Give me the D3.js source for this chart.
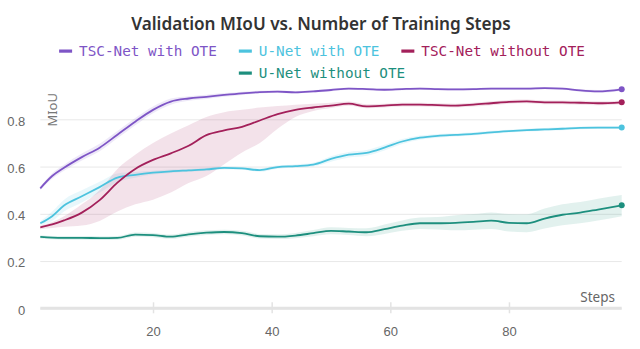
<!DOCTYPE html>
<html>
<head>
<meta charset="utf-8">
<title>Validation MIoU vs. Number of Training Steps</title>
<script src="https://cdn.jsdelivr.net/npm/d3@7"></script>
<style>
  body { margin: 0; background: #fff; }
  svg { display: block; font-family: "Noto Sans", sans-serif; }
  .tick text { fill: #666; font-size: 13px; }
  .legend text { font-family: "DejaVu Sans Mono", monospace; font-size: 14.3px; }
</style>
</head>
<body>
<script>
// training steps (x) sampled along the curves
var steps = [1,3,5,8,11,14,17,20,23,26,29,32,35,38,41,44,47,50,53,56,59,62,65,68,71,74,77,80,83,86,89,92,95,99];

// TSC-Net with OTE
var tscOte   = [0.508,0.56,0.595,0.64,0.68,0.735,0.79,0.84,0.875,0.888,0.895,0.903,0.91,0.915,0.917,0.914,0.918,0.924,0.93,0.928,0.925,0.928,0.93,0.928,0.927,0.928,0.93,0.93,0.93,0.932,0.93,0.922,0.918,0.927];
var tscOteLo = [0.5,0.548,0.582,0.626,0.665,0.72,0.775,0.826,0.862,0.878,0.886,0.895,0.903,0.909,0.911,0.909,0.913,0.919,0.925,0.923,0.92,0.923,0.925,0.923,0.922,0.923,0.925,0.925,0.925,0.927,0.925,0.917,0.912,0.921];
var tscOteHi = [0.516,0.572,0.608,0.655,0.696,0.75,0.805,0.854,0.888,0.898,0.904,0.911,0.917,0.921,0.923,0.919,0.923,0.929,0.935,0.933,0.93,0.933,0.935,0.933,0.932,0.933,0.935,0.935,0.935,0.937,0.935,0.927,0.924,0.933];

// U-Net with OTE
var unetOte   = [0.36,0.39,0.435,0.474,0.513,0.553,0.565,0.574,0.58,0.584,0.588,0.594,0.592,0.585,0.598,0.602,0.608,0.632,0.65,0.658,0.68,0.706,0.722,0.73,0.734,0.738,0.745,0.75,0.754,0.757,0.76,0.764,0.765,0.765];
var unetOteLo = [0.352,0.37,0.41,0.448,0.49,0.535,0.553,0.566,0.573,0.578,0.582,0.588,0.586,0.578,0.591,0.595,0.6,0.62,0.638,0.646,0.668,0.695,0.713,0.722,0.727,0.731,0.738,0.744,0.748,0.751,0.754,0.758,0.759,0.759];
var unetOteHi = [0.368,0.41,0.46,0.5,0.536,0.571,0.577,0.582,0.587,0.59,0.594,0.6,0.598,0.592,0.605,0.609,0.616,0.644,0.662,0.67,0.692,0.717,0.731,0.738,0.741,0.745,0.752,0.756,0.76,0.763,0.766,0.77,0.771,0.771];

// TSC-Net without OTE
var tscNo   = [0.343,0.355,0.372,0.405,0.458,0.532,0.59,0.628,0.656,0.688,0.733,0.753,0.768,0.795,0.822,0.84,0.85,0.858,0.866,0.855,0.858,0.862,0.862,0.86,0.858,0.862,0.868,0.874,0.876,0.872,0.872,0.87,0.868,0.872];
var tscNoLo = [0.335,0.34,0.345,0.35,0.37,0.41,0.44,0.46,0.49,0.53,0.56,0.61,0.66,0.70,0.76,0.81,0.835,0.848,0.857,0.847,0.85,0.854,0.854,0.852,0.85,0.854,0.86,0.866,0.868,0.864,0.864,0.862,0.86,0.864];
var tscNoHi = [0.35,0.365,0.39,0.44,0.50,0.59,0.65,0.70,0.74,0.775,0.81,0.83,0.84,0.85,0.856,0.862,0.866,0.87,0.875,0.864,0.866,0.87,0.87,0.868,0.866,0.87,0.876,0.882,0.884,0.88,0.88,0.878,0.876,0.88];

// U-Net without OTE
var unetNo   = [0.302,0.299,0.298,0.298,0.297,0.298,0.312,0.31,0.303,0.313,0.32,0.323,0.318,0.305,0.303,0.308,0.318,0.328,0.325,0.322,0.335,0.35,0.36,0.36,0.362,0.366,0.371,0.362,0.36,0.38,0.396,0.405,0.418,0.436];
var unetNoLo = [0.295,0.292,0.29,0.29,0.289,0.29,0.303,0.301,0.294,0.303,0.31,0.313,0.308,0.295,0.293,0.297,0.305,0.313,0.31,0.305,0.315,0.328,0.336,0.334,0.33,0.333,0.336,0.325,0.322,0.338,0.352,0.36,0.372,0.39];
var unetNoHi = [0.309,0.306,0.306,0.306,0.305,0.306,0.321,0.319,0.312,0.323,0.33,0.333,0.328,0.315,0.313,0.319,0.331,0.343,0.34,0.339,0.355,0.372,0.384,0.386,0.394,0.399,0.406,0.399,0.398,0.422,0.44,0.45,0.464,0.48];

var xTicks = [20,40,60,80];
var yTicks = [0,0.2,0.4,0.6,0.8];

var series = [
  {name: "TSC-Net with OTE",    color: "#7e55c6", v: tscOte,  lo: tscOteLo,  hi: tscOteHi},
  {name: "U-Net with OTE",      color: "#4cc3de", v: unetOte, lo: unetOteLo, hi: unetOteHi},
  {name: "TSC-Net without OTE", color: "#a3205a", v: tscNo,   lo: tscNoLo,   hi: tscNoHi},
  {name: "U-Net without OTE",   color: "#1d8f7e", v: unetNo,  lo: unetNoLo,  hi: unetNoHi}
];

var W = 640, H = 349;
var svg = d3.select("body").append("svg").attr("width", W).attr("height", H);

var x = d3.scaleLinear().domain([1, 99]).range([40.3, 621.7]);
var y = d3.scaleLinear().domain([0, 0.8]).range([308.3, 119.3]);

// title, scaled to the width seen in the picture
var title = svg.append("text")
  .attr("x", 321).attr("y", 30)
  .attr("text-anchor", "middle")
  .style("font-size", "17px").style("font-weight", 600).style("fill", "#333")
  .text("Validation MIoU vs. Number of Training Steps");
var tw = title.node().getComputedTextLength();
title.style("font-size", (17 * 380 / tw) + "px");

// y grid + labels
var yAxis = d3.axisLeft(y).tickValues(yTicks)
  .tickSize(-(x(99) - x(1))).tickPadding(15)
  .tickFormat(function(d) { return d === 0 ? "0" : d3.format(".1f")(d); });
var gy = svg.append("g").attr("transform", "translate(" + x(1) + ",0)").call(yAxis);
gy.select(".domain").remove();
gy.selectAll(".tick line").attr("stroke", "#e8e8e8").attr("stroke-width", 1);
gy.selectAll(".tick text").attr("dy", "0.45em");

// baseline at 0
svg.append("line")
  .attr("x1", x(1)).attr("x2", x(99))
  .attr("y1", y(0)).attr("y2", y(0))
  .attr("stroke", "#e3e3e3").attr("stroke-width", 3);

// x axis
var xAxis = d3.axisBottom(x).tickValues(xTicks).tickSize(5).tickPadding(13);
var gx = svg.append("g").attr("transform", "translate(0," + y(0) + ")").call(xAxis);
gx.select(".domain").remove();
gx.selectAll(".tick line").attr("y1", -6).attr("y2", 5).attr("stroke", "#e3e3e3").attr("stroke-width", 1.5);

// axis titles
svg.append("text")
  .attr("transform", "translate(57,93) rotate(-90)")
  .attr("text-anchor", "end")
  .style("font-size", "13px").style("fill", "#777")
  .text("MIoU");
svg.append("text")
  .attr("x", 615).attr("y", 302)
  .attr("text-anchor", "end")
  .style("font-size", "13.5px").style("fill", "#666")
  .text("Steps");

// bands, lines, end dots
var area = d3.area()
  .x(function(d) { return x(d.s); })
  .y0(function(d) { return y(d.lo); })
  .y1(function(d) { return y(d.hi); })
  .curve(d3.curveMonotoneX);
var line = d3.line()
  .x(function(d) { return x(d.s); })
  .y(function(d) { return y(d.v); })
  .curve(d3.curveMonotoneX);

series.forEach(function(s) {
  s.pts = steps.map(function(st, i) { return {s: st, v: s.v[i], lo: s.lo[i], hi: s.hi[i]}; });
});
series.forEach(function(s) {
  svg.append("path").datum(s.pts)
    .attr("d", area).attr("fill", s.color).attr("fill-opacity", 0.13);
});
series.forEach(function(s) {
  svg.append("path").datum(s.pts)
    .attr("d", line).attr("fill", "none")
    .attr("stroke", s.color).attr("stroke-width", 1.8);
  var last = s.pts[s.pts.length - 1];
  svg.append("circle").attr("cx", x(last.s)).attr("cy", y(last.v)).attr("r", 3).attr("fill", s.color);
});

// legend, two centred rows
var rows = [series.slice(0, 3), series.slice(3)];
var rowY = [51, 73];
var mark = 13, gapT = 7, gapI = 22;
rows.forEach(function(row, r) {
  var g = svg.append("g").attr("class", "legend");
  var items = row.map(function(s) {
    var it = g.append("g");
    it.append("rect").attr("y", -1.5).attr("width", mark).attr("height", 3.2).attr("fill", s.color);
    var t = it.append("text").attr("x", mark + gapT).attr("dy", "0.35em").attr("fill", s.color).text(s.name);
    return {g: it, w: mark + gapT + t.node().getComputedTextLength()};
  });
  var total = d3.sum(items, function(d) { return d.w; }) + gapI * (items.length - 1);
  var cx = 322 - total / 2;
  items.forEach(function(it) {
    it.g.attr("transform", "translate(" + cx + "," + rowY[r] + ")");
    cx += it.w + gapI;
  });
});
</script>
</body>
</html>
